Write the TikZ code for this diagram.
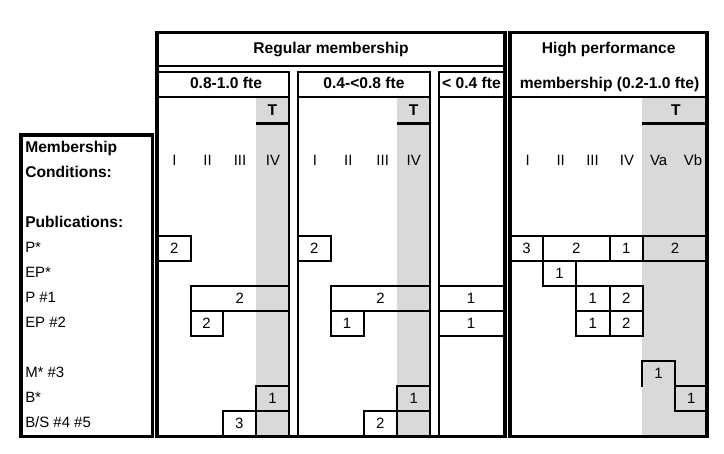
\documentclass[tikz,border=0pt]{standalone}
\usepackage{fontspec}
\setmainfont{Liberation Sans}
\definecolor{tgray}{RGB}{217,217,217}
\tikzset{
  frame/.style={line width=2.6pt},
  rule/.style={line width=1.5pt},
  trule/.style={line width=2.3pt},
  cell/.style={line width=1.5pt},
  head/.style={font=\fontsize{11.7}{14}\selectfont\bfseries, anchor=base, inner sep=0pt},
  headw/.style={head, anchor=base west},
  roman/.style={font=\fontsize{11.2}{14}\selectfont, anchor=base, inner sep=0pt},
  rowlab/.style={font=\fontsize{11.2}{14}\selectfont, anchor=base west, inner sep=0pt},
  num/.style={font=\fontsize{11.2}{14}\selectfont, inner sep=0pt},
}
\begin{document}
\begin{tikzpicture}[x=0.75pt,y=0.75pt,yscale=-1,xscale=1]
\useasboundingbox (0,0) rectangle (724,453);
%Shape: shaded T columns
\fill [tgray] (256,97) rectangle (289,437) ;
\fill [tgray] (397,97) rectangle (430.3,437) ;
\fill [tgray] (642,97) rectangle (707,437) ;
%Straight Lines: header rules
\draw [rule] (157,66) -- (505,66) ;
\draw [rule] (158,71.7) -- (289,71.7) -- (289,437) ;
\draw [rule] (158,97) -- (289,97) ;
\draw [rule] (297.7,437) -- (297.7,71.7) -- (430.3,71.7) -- (430.3,437) ;
\draw [rule] (297.7,97) -- (430.3,97) ;
\draw [rule] (438.7,437) -- (438.7,71.7) -- (504,71.7) ;
\draw [rule] (438.7,97) -- (504,97) ;
\draw [rule] (510,97) -- (707,97) ;
%Straight Lines: T rules
\draw [trule] (256,123.3) -- (289,123.3) ;
\draw [trule] (397,123.3) -- (430.3,123.3) ;
\draw [trule] (642,123.3) -- (707,123.3) ;
%Shape: Rectangle cells, 0.8-1.0 fte
\draw [cell] (158,235.5) rectangle node[num] (aPs) {2} (190.5,260.5) ;
\draw [cell] (190.5,285.5) rectangle node[num] (aP1) {2} (289,310.5) ;
\draw [cell] (190.5,310.5) rectangle node[num] (aEP2) {2} (222.7,335.5) ;
\draw [cell] (256,385.5) rectangle node[num] (aBs) {1} (289,410.5) ;
\draw [cell] (222.7,410.5) rectangle node[num] (aBS) {3} (256,435.5) ;
%Shape: Rectangle cells, 0.4-<0.8 fte
\draw [cell] (297.7,235.5) rectangle node[num] (bPs) {2} (331,260.5) ;
\draw [cell] (330.5,285.5) rectangle node[num] (bP1) {2} (430.3,310.5) ;
\draw [cell] (330.5,310.5) rectangle node[num] (bEP2) {1} (363.7,335.5) ;
\draw [cell] (397,385.5) rectangle node[num] (bBs) {1} (430.3,410.5) ;
\draw [cell] (363.7,410.5) rectangle node[num] (bBS) {2} (397,435.5) ;
%Shape: Rectangle cells, < 0.4 fte
\draw [cell] (438.7,285.5) rectangle node[num] (cP1) {1} (503.5,310.5) ;
\draw [cell] (438.7,310.5) rectangle node[num] (cEP2) {1} (503.5,335.5) ;
%Shape: Rectangle cells, high performance
\draw [cell] (510,235.5) rectangle node[num] (hPs1) {3} (543,260.5) ;
\draw [cell] (543,235.5) rectangle node[num] (hPs2) {2} (609.7,260.5) ;
\draw [cell] (609.7,235.5) rectangle node[num] (hPs3) {1} (643,260.5) ;
\draw [cell] (643,235.5) rectangle node[num] (hPs4) {2} (707,260.5) ;
\draw [cell] (543,260.5) rectangle node[num] (hEPs) {1} (576,285.5) ;
\draw [cell] (576,285.5) rectangle node[num] (hP1a) {1} (609.7,310.5) ;
\draw [cell] (609.7,285.5) rectangle node[num] (hP1b) {2} (643,310.5) ;
\draw [cell] (576,310.5) rectangle node[num] (hEP2a) {1} (609.7,335.5) ;
\draw [cell] (609.7,310.5) rectangle node[num] (hEP2b) {2} (643,335.5) ;
\draw [cell] (642,386.5) -- (642,360.5) -- (675.3,360.5) -- (675.3,385.5) ;
\node [num] (hM3) at (658.6,373) {1};
\draw [cell] (675.3,385.5) rectangle node[num] (hBs) {1} (707,410.5) ;
%Shape: Rectangle frames
\draw [frame] (21,135) rectangle (152.3,436.7) ;
\draw [frame] (156.8,32.5) rectangle (504.8,436.7) ;
\draw [frame] (510.2,32.5) rectangle (707,436.7) ;
% Text Node
\node [head] (regular) at (331,53.3) {Regular membership};
\node [head] (fteA) at (226,88.3) {0.8-1.0 fte};
\node [head] (fteB) at (364,88.3) {0.4-<0.8 fte};
\node [head] (fteC) at (471.5,88.3) {< 0.4 fte};
\node [head] (high) at (608.7,53.3) {High performance};
\node [head] (highfte) at (609.5,88.3) {membership (0.2-1.0 fte)};
\node [head] (tA) at (272.5,115) {T};
\node [head] (tB) at (413.7,115) {T};
\node [head] (tH) at (676,115) {T};
% Text Node
\node [roman] (rA1) at (174.5,165.5) {I};
\node [roman] (rA2) at (207.5,165.5) {II};
\node [roman] (rA3) at (240,165.5) {III};
\node [roman] (rA4) at (273,165.5) {IV};
\node [roman] (rB1) at (315,165.5) {I};
\node [roman] (rB2) at (348.3,165.5) {II};
\node [roman] (rB3) at (382.7,165.5) {III};
\node [roman] (rB4) at (413.7,165.5) {IV};
\node [roman] (rH1) at (527.7,165.5) {I};
\node [roman] (rH2) at (560.7,165.5) {II};
\node [roman] (rH3) at (592.5,165.5) {III};
\node [roman] (rH4) at (627,165.5) {IV};
\node [roman] (rH5) at (658.7,165.5) {Va};
\node [roman] (rH6) at (693,165.5) {Vb};
% Text Node
\node [headw] (member) at (25,152.3) {Membership};
\node [headw] (cond) at (25,177.3) {Conditions:};
\node [headw] (pub) at (25,227.3) {Publications:};
\node [rowlab] (lPs) at (25,252.5) {P*};
\node [rowlab] (lEPs) at (25,277.5) {EP*};
\node [rowlab] (lP1) at (25,302.5) {P \#1};
\node [rowlab] (lEP2) at (25,327.5) {EP \#2};
\node [rowlab] (lM3) at (25,377.5) {M* \#3};
\node [rowlab] (lBs) at (25,402.5) {B*};
\node [rowlab] (lBS) at (25,427.5) {B/S \#4 \#5};
\end{tikzpicture}
\end{document}
